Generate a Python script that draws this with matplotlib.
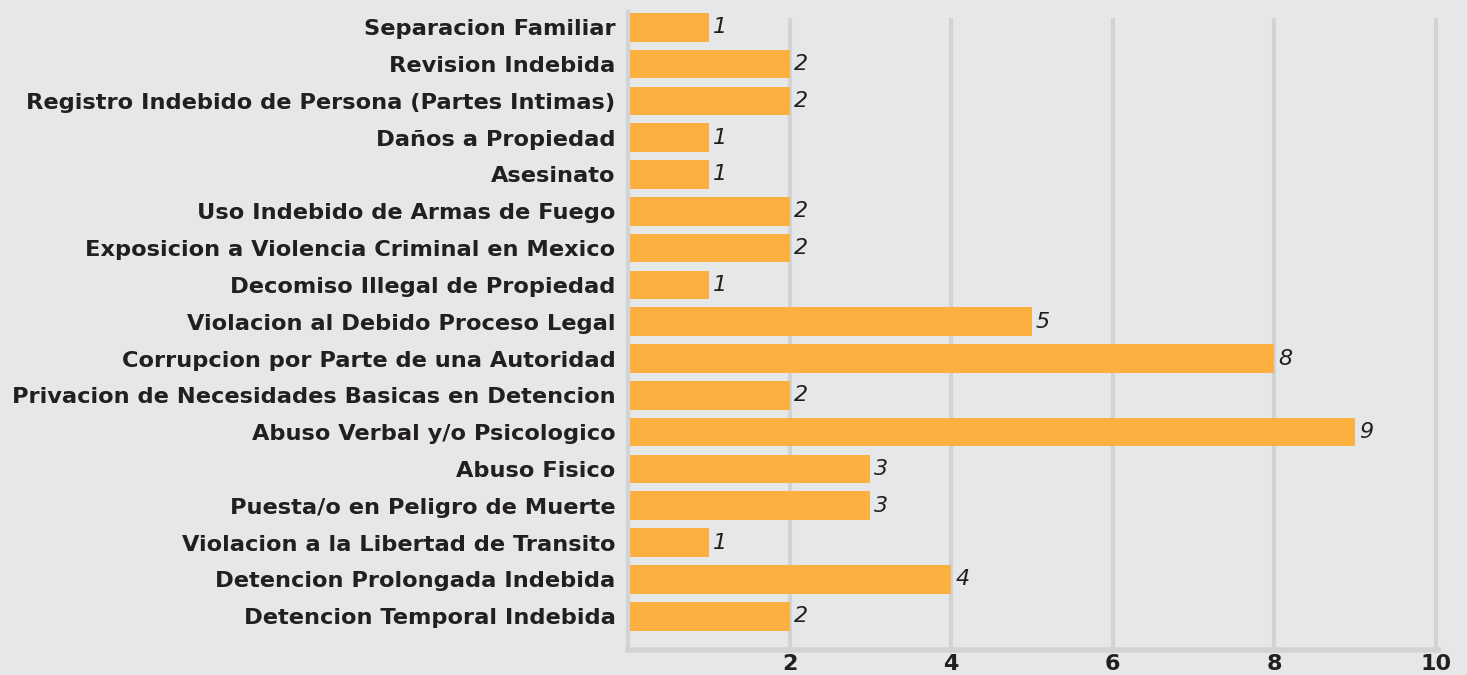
import matplotlib; matplotlib.use('agg')
import matplotlib.pyplot as plt
import numpy as np

# categories listed bottom -> top
categories = [
    'Detencion Temporal Indebida',
    'Detencion Prolongada Indebida',
    'Violacion a la Libertad de Transito',
    'Puesta/o en Peligro de Muerte',
    'Abuso Fisico',
    'Abuso Verbal y/o Psicologico',
    'Privacion de Necesidades Basicas en Detencion',
    'Corrupcion por Parte de una Autoridad',
    'Violacion al Debido Proceso Legal',
    'Decomiso Illegal de Propiedad',
    'Exposicion a Violencia Criminal en Mexico',
    'Uso Indebido de Armas de Fuego',
    'Asesinato',
    'Daños a Propiedad',
    'Registro Indebido de Persona (Partes Intimas)',
    'Revision Indebida',
    'Separacion Familiar',
]
counts = [2, 4, 1, 3, 3, 9, 2, 8, 5, 1, 2, 2, 1, 1, 2, 2, 1]
xticks = [2, 4, 6, 8, 10]

bg = '#e6e7e8'
bar_color = '#fbb040'
grid_color = '#d1d3d4'
text_color = '#231f20'

fig = plt.figure(figsize=(14.67, 6.75), dpi=100, facecolor=bg)
ax = fig.add_axes([0.428, 0.037, 0.552, 0.945])
ax.set_facecolor(bg)

y = np.arange(len(categories))
ax.barh(y, counts, height=0.78, color=bar_color, zorder=2)

for yi, v in zip(y, counts):
    ax.text(v + 0.05, yi, str(v), va='center', ha='left', fontsize=16,
            style='italic', color=text_color, zorder=4)

ax.set_xlim(0, 10.02)
ax.set_ylim(-0.92, 16.41)
ax.set_yticks(y)
ax.set_yticklabels(categories, fontsize=16.2, fontweight='bold', color=text_color)
ax.set_xticks(xticks)
ax.set_xticklabels([str(t) for t in xticks], fontsize=16, fontweight='bold', color=text_color)
ax.tick_params(axis='both', length=0)
ax.tick_params(axis='y', pad=9)
ax.tick_params(axis='x', pad=3)

for t in xticks:
    ax.axvline(t, ymax=0.987, color=grid_color, lw=3, zorder=1)
for s in ['top', 'right']:
    ax.spines[s].set_visible(False)
ax.spines['left'].set_color(grid_color)
ax.spines['left'].set_linewidth(3)
ax.spines['bottom'].set_color(grid_color)
ax.spines['bottom'].set_linewidth(4)

fig.savefig('out.png', dpi=100, facecolor=bg)
